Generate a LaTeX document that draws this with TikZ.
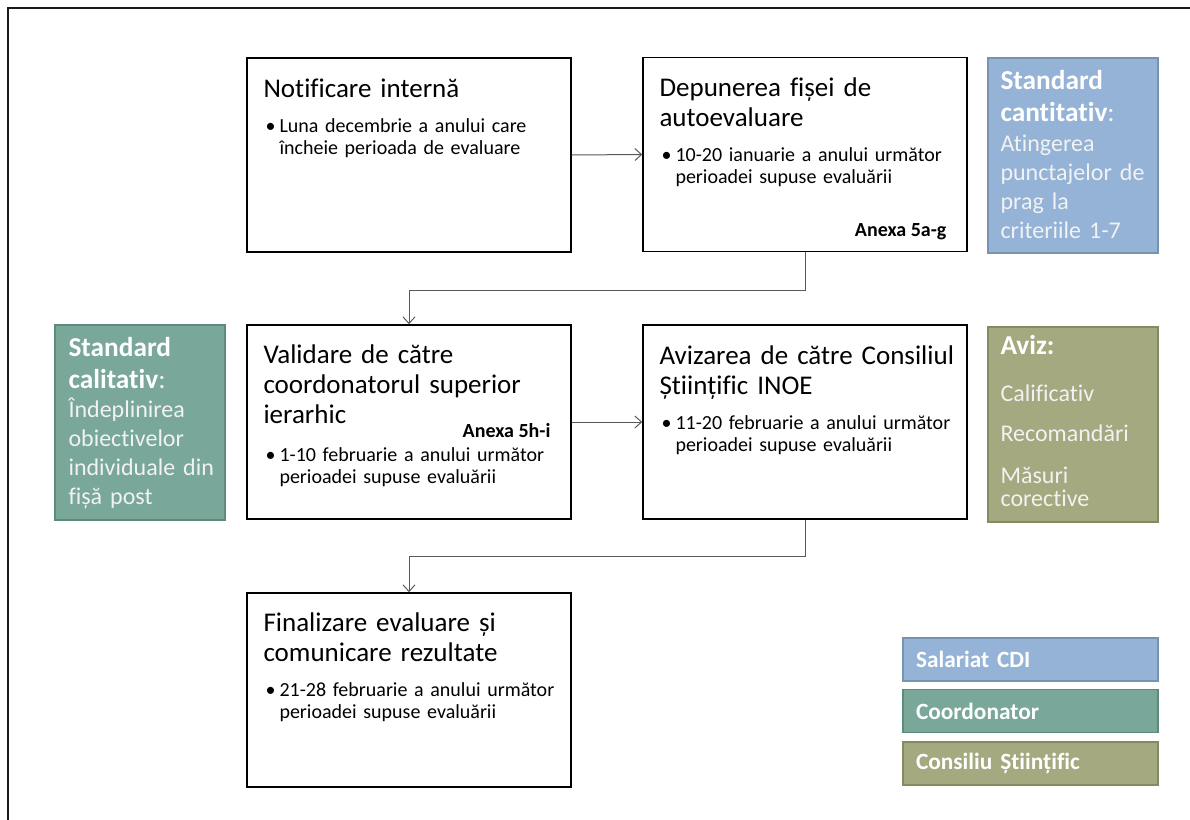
\documentclass[tikz,border=0pt]{standalone}
\usepackage{fontspec}
\setmainfont{Carlito}[Ligatures={NoCommon,NoRare,NoDiscretionary}]
\usetikzlibrary{arrows.meta,calc}
\definecolor{cblue}{HTML}{95B3D7}
\definecolor{cblueb}{HTML}{7892B0}
\definecolor{cgreen}{HTML}{79A799}
\definecolor{cgreenb}{HTML}{5E8A7B}
\definecolor{colive}{HTML}{A4A97F}
\definecolor{coliveb}{HTML}{868A63}
\definecolor{sidetext}{HTML}{F2F2F2}
\definecolor{arrowgray}{HTML}{595959}
\definecolor{framec}{HTML}{1A1A1A}
\begin{document}
\begin{tikzpicture}[x=0.75pt,y=-0.75pt,
  box/.style={draw=black,line width=1.1pt,fill=white,minimum width=243pt,minimum height=145.5pt,inner sep=0pt},
  side/.style={line width=1.1pt,minimum width=127.5pt,minimum height=146.25pt,inner sep=0pt},
  leg/.style={line width=1.1pt,minimum width=191.25pt,minimum height=32.25pt,inner xsep=9.75pt,inner ysep=0pt,text width=171.75pt,align=left,text=white,font=\bfseries\fontsize{17.5}{20}\selectfont},
  ttl/.style={anchor=base west,inner sep=0pt,text width=230pt,align=left,font=\fontsize{20.25}{22.5}\selectfont},
  blt/.style={anchor=base west,inner sep=0pt,text width=220pt,align=left,font=\fontsize{15}{16.5}\selectfont},
  bdot/.style={anchor=base west,inner sep=0pt,font=\fontsize{15}{16.5}\selectfont},
  anx/.style={anchor=base east,inner sep=0pt,font=\bfseries\fontsize{15}{16.5}\selectfont},
  hd/.style={anchor=base west,inner sep=0pt,text width=120pt,align=left,text=white,font=\bfseries\fontsize{20.5}{24}\selectfont},
  bd/.style={anchor=base west,inner sep=0pt,text width=120pt,align=left,text=sidetext,font=\fontsize{18}{21.75}\selectfont},
  arr/.style={draw=arrowgray,line width=0.75pt,-{Straight Barb[length=5pt,width=9pt]}}
]
\useasboundingbox (0,0) rectangle (1190,820);
\coordinate (fb) at (8,820);
\coordinate (fc) at (8,8);
\coordinate (fr) at (1190,8);
\draw[framec,line width=1.6pt] (fb) -- (fc) -- (fr);

% main boxes
\node[box] (n1) at (409,155) {};
\node[box] (n2) at (805,154.5) {};
\node[box] (n3) at (409,422) {};
\node[box] (n4) at (805,422) {};
\node[box] (n5) at (409,690) {};

% side boxes
\node[side,fill=cblue,draw=cblueb] (sq) at (1073,155.5) {};
\node[side,fill=cgreen,draw=cgreenb] (sc) at (140,422.5) {};
\node[side,fill=colive,draw=coliveb] (sa) at (1073,424.5) {};

% legend
\node[leg,fill=cblue,draw=cblueb] (l1) at (1030.5,659.5) {Salariat CDI};
\node[leg,fill=cgreen,draw=cgreenb] (l2) at (1030.5,711) {Coordonator};
\node[leg,fill=colive,draw=coliveb] (l3) at (1030.5,763.5) {Consiliu Științific};

% box 1
\node[ttl] (t1) at ($(n1.north west)+(17,40)$) {Notificare internă};
\node[bdot] (d1) at ($(n1.north west)+(19,75)$) {•};
\node[blt] (b1) at ($(n1.north west)+(33,75)$) {Luna decembrie a anului care\\încheie perioada de evaluare};

% box 2
\node[ttl] (t2) at ($(n2.north west)+(17,40)$) {Depunerea fișei de\\autoevaluare};
\node[bdot] (d2) at ($(n2.north west)+(19,105)$) {•};
\node[blt] (b2) at ($(n2.north west)+(33,105)$) {10-20 ianuarie a anului următor\\perioadei supuse evaluării};
\node[anx] (a2) at ($(n2.north east)+(-21,180)$) {Anexa 5a-g};

% box 3
\node[ttl] (t3) at ($(n3.north west)+(17,39)$) {Validare de către\\coordonatorul superior\\ierarhic};
\node[anx] (a3) at ($(n3.north east)+(-21,113)$) {Anexa 5h-i};
\node[bdot] (d3) at ($(n3.north west)+(19,137)$) {•};
\node[blt] (b3) at ($(n3.north west)+(33,137)$) {1-10 februarie a anului următor\\perioadei supuse evaluării};

% box 4
\node[ttl] (t4) at ($(n4.north west)+(17,40)$) {Avizarea de către Consiliul\\Științific INOE};
\node[bdot] (d4) at ($(n4.north west)+(19,105)$) {•};
\node[blt] (b4) at ($(n4.north west)+(33,105)$) {11-20 februarie a anului următor\\perioadei supuse evaluării};

% box 5
\node[ttl] (t5) at ($(n5.north west)+(17,39)$) {Finalizare evaluare și\\comunicare rezultate};
\node[bdot] (d5) at ($(n5.north west)+(19,104)$) {•};
\node[blt] (b5) at ($(n5.north west)+(33,104)$) {21-28 februarie a anului următor\\perioadei supuse evaluării};

% side texts
\node[hd] (hq) at ($(sq.north west)+(13,32)$) {Standard\\cantitativ{\mdseries\color{sidetext}:}};
\node[bd] (bq) at ($(sq.north west)+(13,94)$) {Atingerea\\punctajelor de\\prag la\\criteriile 1-7};
\node[hd] (hc) at ($(sc.north west)+(14,32)$) {Standard\\calitativ{\mdseries\color{sidetext}:}};
\node[bd] (bc) at ($(sc.north west)+(14,93)$) {Îndeplinirea\\obiectivelor\\individuale din\\fișă post};
\node[hd] (ha) at ($(sa.north west)+(13,28)$) {Aviz:};
\node[bd] (ba1) at ($(sa.north west)+(13,75)$) {Calificativ};
\node[bd] (ba2) at ($(sa.north west)+(13,115)$) {Recomandări};
\node[bd,font=\fontsize{18}{17.5}\selectfont] (ba3) at ($(sa.north west)+(13,157)$) {Măsuri\\corective};

% connectors
\draw[arr] (n1.east) -- (n2.west);
\draw[arr] (n2.south) -- ++(0,38) -| (n3.north);
\draw[arr] (n3.east) -- (n4.west);
\draw[arr] (n4.south) -- ++(0,37) -| (n5.north);
\end{tikzpicture}
\end{document}
